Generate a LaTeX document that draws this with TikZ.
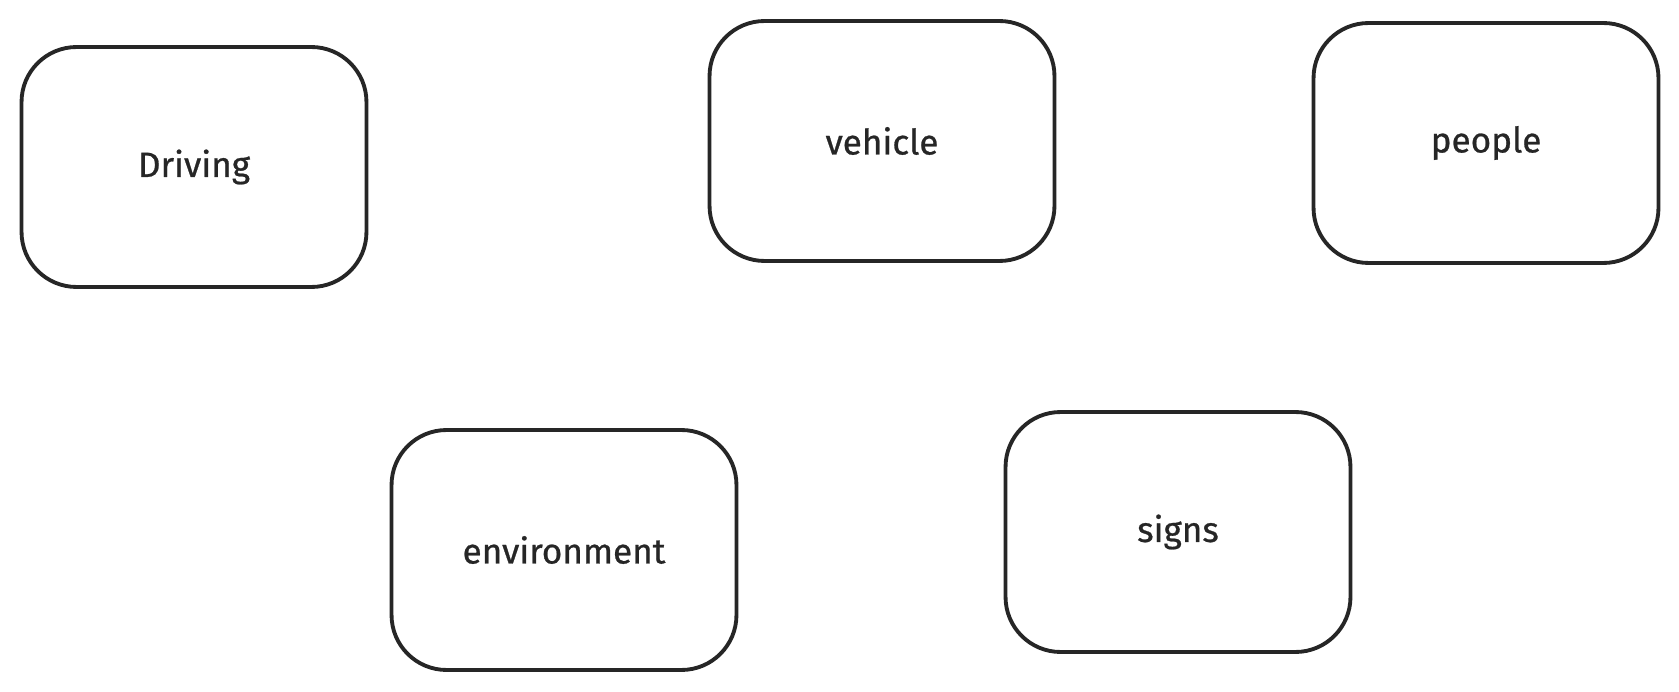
\documentclass[tikz,border=0pt]{standalone}
\usepackage{fontspec}
\setmainfont{Fira Sans}
\usepackage{tikz}
\tikzset{every picture/.style={x=0.02cm,y=-0.02cm},
  topic/.style={rectangle, rounded corners=1.1cm, draw=black!85, line width=2.2pt,
    minimum width=6.9cm, minimum height=4.8cm, font=\fontsize{20}{23}\selectfont\addfontfeature{FakeBold=0.7}, text=black!85}}

\begin{document}
\begin{tikzpicture}
        \useasboundingbox (0,0) rectangle (1679,692);
        \node[topic] (driving) at (194, 167) {Driving};
        \node[topic] (vehicle) at (882, 141) {vehicle};
        \node[topic] (people) at (1486, 143) {people};
        \node[topic] (environment) at (564, 550) {environment};
        \node[topic] (signs) at (1178, 532) {signs};
      \end{tikzpicture}
\end{document}
